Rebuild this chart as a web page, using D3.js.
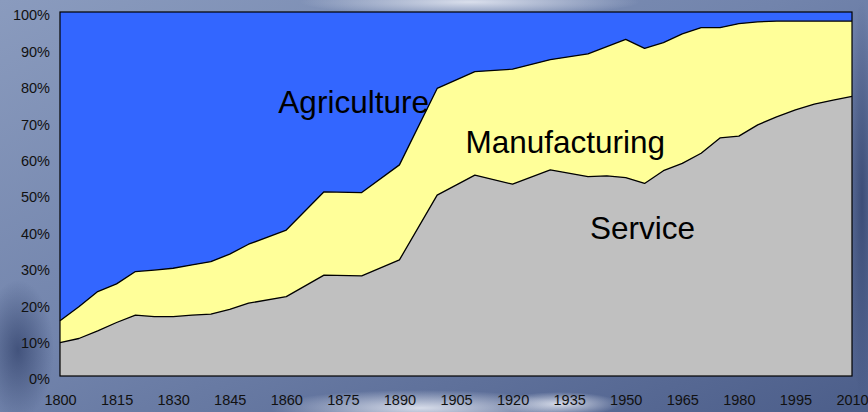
<!DOCTYPE html>
<html>
<head>
<meta charset="utf-8">
<script src="https://cdn.jsdelivr.net/npm/d3@7"></script>
<style>
  html, body { margin: 0; padding: 0; }
  body { width: 868px; height: 412px; overflow: hidden; }
  svg { display: block; font-family: "Liberation Sans", Arial, sans-serif; }
</style>
</head>
<body>
<div id="chart"></div>
<script>
// years with a data point
const years = [1800, 1805, 1810, 1815, 1820, 1825, 1830, 1835, 1840, 1845, 1850,
  1860, 1870, 1880, 1890, 1900, 1910, 1920, 1930, 1940,
  1945, 1950, 1955, 1960, 1965, 1970, 1975, 1980, 1985, 1990, 1995, 2000, 2005, 2010];

// share of workforce (%)
const service = [9.2, 10.3, 12.4, 14.7, 16.7, 16.3, 16.3, 16.7, 17.0, 18.3, 20.0,
  21.8, 27.7, 27.5, 31.9, 49.7, 55.2, 52.7, 56.6, 54.8,
  55.0, 54.5, 52.9, 56.4, 58.4, 61.2, 65.4, 65.9, 69.0, 71.2, 73.1, 74.7, 75.8, 76.8];
const manufacturing = [6.0, 8.7, 10.8, 10.6, 12.0, 12.8, 13.3, 13.8, 14.4, 15.2, 16.2,
  18.3, 22.9, 22.9, 26.1, 29.3, 28.4, 31.6, 30.3, 33.7,
  35.5, 38.0, 37.1, 35.2, 35.6, 34.5, 30.3, 30.9, 28.3, 26.3, 24.4, 22.8, 21.7, 20.7];
const agriculture = [84.8, 81.0, 76.8, 74.7, 71.3, 70.9, 70.4, 69.5, 68.6, 66.5, 63.8,
  59.9, 49.4, 49.6, 42.0, 21.0, 16.4, 15.7, 13.1, 11.5,
  9.5, 7.5, 10.0, 8.4, 6.0, 4.3, 4.3, 3.2, 2.7, 2.5, 2.5, 2.5, 2.5, 2.5];

const xTicks = [1800, 1815, 1830, 1845, 1860, 1875, 1890, 1905, 1920, 1935, 1950, 1965, 1980, 1995, 2010];
const yTicks = [0, 10, 20, 30, 40, 50, 60, 70, 80, 90, 100];

const keys = ["service", "manufacturing", "agriculture"];
const colors = { service: "#c0c0c0", manufacturing: "#ffff99", agriculture: "#3366ff" };
const labels = [
  { text: "Agriculture", year: 1857.9, value: 72.3 },
  { text: "Manufacturing", year: 1907.5, value: 61.3 },
  { text: "Service", year: 1940.5, value: 37.6 }
];

const width = 868, height = 412;
const margin = { top: 12, right: 16, bottom: 36, left: 60 };
const innerW = width - margin.left - margin.right;
const innerH = height - margin.top - margin.bottom;

const table = years.map((y, i) => ({
  year: y, service: service[i], manufacturing: manufacturing[i], agriculture: agriculture[i]
}));

const svg = d3.select("#chart").append("svg")
  .attr("width", width)
  .attr("height", height);

// cloudy sky background
const defs = svg.append("defs");
const bg = defs.append("linearGradient").attr("id", "sky")
  .attr("x1", 0).attr("y1", 0).attr("x2", 1).attr("y2", 1);
bg.append("stop").attr("offset", "0%").attr("stop-color", "#8a9bbe");
bg.append("stop").attr("offset", "45%").attr("stop-color", "#7284ac");
bg.append("stop").attr("offset", "100%").attr("stop-color", "#4c5e8a");

const cloud = defs.append("radialGradient").attr("id", "cloud");
cloud.append("stop").attr("offset", "0%").attr("stop-color", "#e4e8f2").attr("stop-opacity", 0.9);
cloud.append("stop").attr("offset", "100%").attr("stop-color", "#e4e8f2").attr("stop-opacity", 0);

const shade = defs.append("radialGradient").attr("id", "shade");
shade.append("stop").attr("offset", "0%").attr("stop-color", "#2e3e68").attr("stop-opacity", 0.7);
shade.append("stop").attr("offset", "100%").attr("stop-color", "#2e3e68").attr("stop-opacity", 0);

svg.append("rect").attr("width", width).attr("height", height).attr("fill", "url(#sky)");
svg.append("ellipse").attr("cx", 470).attr("cy", 2).attr("rx", 170).attr("ry", 14).attr("fill", "url(#cloud)");
svg.append("ellipse").attr("cx", 420).attr("cy", 408).attr("rx", 150).attr("ry", 18).attr("fill", "url(#cloud)");
svg.append("ellipse").attr("cx", 560).attr("cy", 404).attr("rx", 60).attr("ry", 12).attr("fill", "url(#cloud)");
svg.append("ellipse").attr("cx", 18).attr("cy", 350).attr("rx", 36).attr("ry", 70).attr("fill", "url(#shade)");
svg.append("ellipse").attr("cx", 862).attr("cy", 200).attr("rx", 14).attr("ry", 200).attr("fill", "url(#shade)");

const g = svg.append("g")
  .attr("transform", `translate(${margin.left},${margin.top})`);

const x = d3.scaleLinear().domain([1800, 2010]).range([0, innerW]);
const y = d3.scaleLinear().domain([0, 100]).range([innerH, 0]);

const stacked = d3.stack().keys(keys)(table);

const area = d3.area()
  .x(d => x(d.data.year))
  .y0(d => y(d[0]))
  .y1(d => y(Math.min(100, d[1])));

g.selectAll("path.layer")
  .data(stacked)
  .join("path")
  .attr("class", "layer")
  .attr("fill", d => colors[d.key])
  .attr("d", area);

// boundary lines between layers
const line = d3.line()
  .x(d => x(d.data.year))
  .y(d => y(d[1]));

g.selectAll("path.edge")
  .data(stacked.slice(0, 2))
  .join("path")
  .attr("class", "edge")
  .attr("fill", "none")
  .attr("stroke", "#000")
  .attr("stroke-width", 1.3)
  .attr("stroke-linejoin", "round")
  .attr("d", line);

// plot frame
g.append("rect")
  .attr("width", innerW)
  .attr("height", innerH)
  .attr("fill", "none")
  .attr("stroke", "#000")
  .attr("stroke-width", 1.2);

// axes
const xAxis = g.append("g")
  .attr("transform", `translate(0,${innerH})`)
  .call(d3.axisBottom(x).tickValues(xTicks).tickFormat(d3.format("d")).tickSize(0).tickPadding(19));
const yAxis = g.append("g")
  .call(d3.axisLeft(y).tickValues(yTicks).tickFormat(d => d + "%").tickSize(0).tickPadding(10));

[xAxis, yAxis].forEach(a => {
  a.select(".domain").remove();
  a.selectAll("text")
    .attr("fill", "#111")
    .style("font-size", "14.5px")
    .style("font-family", "'Liberation Sans', Arial, sans-serif");
});
yAxis.selectAll("text").attr("dy", "0.55em");

// layer labels
g.selectAll("text.label")
  .data(labels)
  .join("text")
  .attr("class", "label")
  .attr("x", d => x(d.year))
  .attr("y", d => y(d.value))
  .attr("fill", "#000")
  .style("font-size", "31.5px")
  .text(d => d.text);
</script>
</body>
</html>
